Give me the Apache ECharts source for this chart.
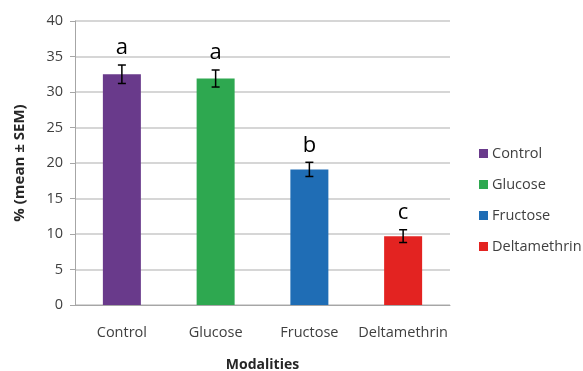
<!DOCTYPE html>
<html><head><meta charset="utf-8">
<script src="https://cdn.jsdelivr.net/npm/echarts@6/dist/echarts.min.js"></script>
<style>html,body{margin:0;padding:0;background:#fff}#c{width:583px;height:371px}</style>
</head><body><div id="c"></div>
<script>
const categories = ['Control','Glucose','Fructose','Deltamethrin'];
const means = [32.5, 31.9, 19.1, 9.7];
const sems = [1.3, 1.2, 1.0, 0.9];
const letters = ['a','a','b','c'];
const colors = ['#693a8b','#2ea850','#1f6db5','#e32321'];
const yTicks = {min:0, max:40, interval:5};

const chart = echarts.init(document.getElementById('c'));
const font = 'Open Sans';
const barSeries = categories.map((name,i)=>({
  name: name,
  type:'bar',
  barWidth: 38,
  barGap:'-100%',
  data: categories.map((c,j)=> j===i ? means[i] : '-'),
  itemStyle:{color:colors[i]},
  z:2
}));
const errData = categories.map((c,i)=>[i, means[i]-sems[i], means[i]+sems[i], letters[i]]);
chart.setOption({
  animation:false,
  textStyle:{fontFamily:font},
  grid:{left:75,right:133,top:21,bottom:66,containLabel:false,outerBoundsMode:'none'},
  legend:{
    orient:'vertical', left:474, top:141,
    itemWidth:9, itemHeight:9, itemGap:16,
    icon:'rect',
    textStyle:{fontFamily:font,fontSize:14.5,color:'#404040',padding:[0,0,0,-1]},
    data:categories
  },
  xAxis:{
    type:'category', data:categories,
    axisLine:{lineStyle:{color:'#a6a6a6'}},
    axisTick:{show:false},
    axisLabel:{fontFamily:font,fontSize:14.5,color:'#404040',margin:20,interval:0},
    name:'Modalities', nameLocation:'middle', nameGap:53,
    nameTextStyle:{fontFamily:font,fontSize:14,fontWeight:'bold',color:'#262626'}
  },
  yAxis:{
    type:'value', min:yTicks.min, max:yTicks.max, interval:yTicks.interval,
    axisLine:{show:true,lineStyle:{color:'#a6a6a6'}},
    axisTick:{show:true,length:5,inside:false,lineStyle:{color:'#a6a6a6'}},
    splitLine:{lineStyle:{color:'#c8c8c8',width:1.5}},
    axisLabel:{fontFamily:font,fontSize:14.5,color:'#404040',margin:12},
    name:'% (mean ± SEM)', nameLocation:'middle', nameGap:48, nameRotate:90,
    nameTextStyle:{fontFamily:font,fontSize:15,fontWeight:'bold',color:'#262626'}
  },
  series:[...barSeries,{
    type:'custom',
    name:'err',
    z:5,
    data:errData,
    renderItem:function(params,api){
      const x = api.value(0);
      const lo = api.coord([x, api.value(1)]);
      const hi = api.coord([x, api.value(2)]);
      const hw = 4;
      const st = {stroke:'#000',lineWidth:1.5};
      return {type:'group',children:[
        {type:'line',shape:{x1:lo[0],y1:lo[1],x2:hi[0],y2:hi[1]},style:st},
        {type:'line',shape:{x1:lo[0]-hw,y1:lo[1],x2:lo[0]+hw,y2:lo[1]},style:st},
        {type:'line',shape:{x1:hi[0]-hw,y1:hi[1],x2:hi[0]+hw,y2:hi[1]},style:st},
        {type:'text',style:{text:letters[params.dataIndex],x:hi[0],y:hi[1]-6,
          textAlign:'center',textVerticalAlign:'bottom',fontFamily:font,fontSize:22,fill:'#000'}}
      ]};
    }
  }]
});
</script></body></html>
